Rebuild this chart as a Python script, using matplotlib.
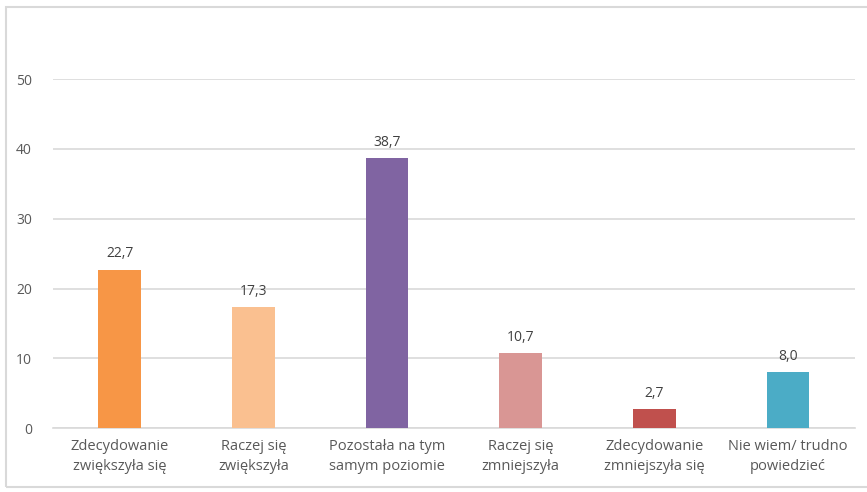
import matplotlib

matplotlib.use("Agg")
import matplotlib.pyplot as plt
from matplotlib.patches import Rectangle

categories = [
    "Zdecydowanie\nzwiększyła się",
    "Raczej się\nzwiększyła",
    "Pozostała na tym\nsamym poziomie",
    "Raczej się\nzmniejszyła",
    "Zdecydowanie\nzmniejszyła się",
    "Nie wiem/ trudno\npowiedzieć",
]
values = [22.7, 17.3, 38.7, 10.7, 2.7, 8.0]
colors = ["#F79646", "#FAC090", "#8064A2", "#D99694", "#C0504D", "#4BACC6"]
yticks = [0, 10, 20, 30, 40, 50]

text_color = "#595959"
grid_color = "#D9D9D9"

plt.rcParams["font.family"] = ["Open Sans", "DejaVu Sans"]

fig = plt.figure(figsize=(8.67, 4.92), dpi=100)
ax = fig.add_axes([0.061, 0.130, 0.925, 0.709])

x = range(len(categories))
bars = ax.bar(x, values, width=0.32, color=colors, zorder=3)

for rect, v in zip(bars, values):
    ax.text(rect.get_x() + rect.get_width() / 2, v + 1.2, f"{v:.1f}".replace(".", ","),
            ha="center", va="bottom", fontsize=10, color="#404040")

ax.set_xlim(-0.5, len(categories) - 0.5)
ax.set_ylim(0, 50)
ax.set_yticks(yticks)
ax.set_yticklabels([str(t) for t in yticks], fontsize=10, color=text_color)
ax.set_xticks(list(x))
ax.set_xticklabels(categories, fontsize=10.5, color=text_color, linespacing=1.45)
ax.tick_params(axis="both", length=0)
ax.tick_params(axis="y", pad=15)
ax.tick_params(axis="x", pad=8)

ax.grid(axis="y", color=grid_color, linewidth=1.2, zorder=0)
for side in ("top", "right", "left"):
    ax.spines[side].set_visible(False)
ax.spines["bottom"].set_color(grid_color)
ax.spines["bottom"].set_linewidth(1.2)

# light frame around the chart area
fig.patches.append(Rectangle((0.007, 0.01), 1.2, 0.976, transform=fig.transFigure,
                             fill=False, edgecolor="#D9D9D9", linewidth=1.5))

fig.savefig("out.png", dpi=100, facecolor="white")
